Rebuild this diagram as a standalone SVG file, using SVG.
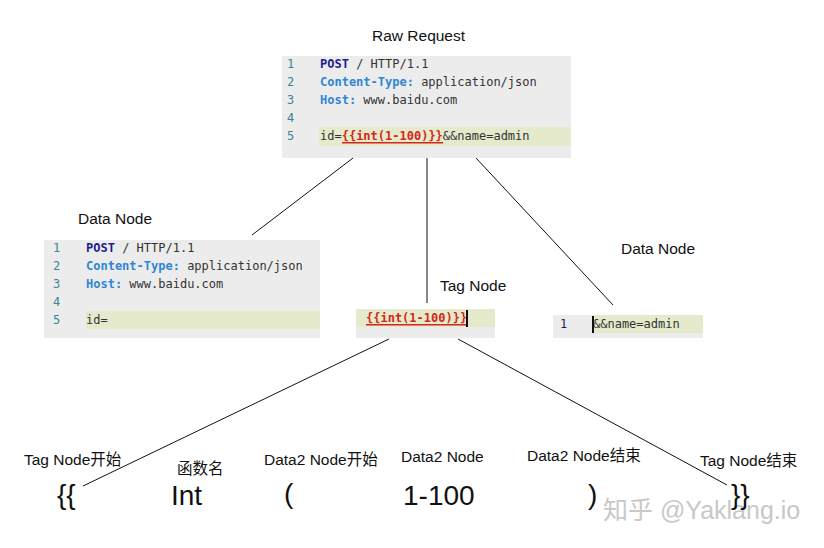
<svg xmlns="http://www.w3.org/2000/svg" width="824" height="548" viewBox="0 0 824 548">
<style>
.lbl{font-family:"Liberation Sans","Noto Sans CJK SC",Arial,sans-serif;font-size:15.5px;fill:#111}
.big{font-family:"Liberation Sans",Arial,sans-serif;font-size:28px;fill:#111}
.code{font-family:"DejaVu Sans Mono","Liberation Mono",monospace;font-size:12px;fill:#333}
.num{fill:#3a8595}
.kw{font-weight:bold;fill:#1c1c8a}
.hd{font-weight:bold;fill:#2f86d6}
.red{font-weight:bold;fill:#d4271b}
.box{fill:#ececec}
.hl{fill:#e6eacc}
.ln{stroke:#111;stroke-width:1;fill:none}
</style>
<rect width="824" height="548" fill="#fff"/>
<g id="raw-request">
<text class="lbl" x="372" y="41">Raw Request</text>
<rect class="box" x="282" y="56" width="289" height="102"/>
<rect class="hl" x="319" y="127" width="252" height="19"/>
<text class="code" x="287" y="68"><tspan class="num">1</tspan></text>
<text class="code" x="287" y="86"><tspan class="num">2</tspan></text>
<text class="code" x="287" y="104"><tspan class="num">3</tspan></text>
<text class="code" x="287" y="122"><tspan class="num">4</tspan></text>
<text class="code" x="287" y="140"><tspan class="num">5</tspan></text>
<text class="code" x="320" y="68"><tspan class="kw">POST</tspan> / HTTP/1.1</text>
<text class="code" x="320" y="86"><tspan class="hd">Content-Type:</tspan> application/json</text>
<text class="code" x="320" y="104"><tspan class="hd">Host:</tspan> www.baidu.com</text>
<text class="code" x="320" y="140">id=<tspan class="red">{{int(1-100)}}</tspan>&amp;&amp;name=admin</text>
<rect x="342" y="142" width="101" height="1.5" fill="#d4271b"/>
</g>
<g id="data-node-left">
<text class="lbl" x="78" y="224">Data Node</text>
<rect class="box" x="44" y="240" width="276" height="98"/>
<rect class="hl" x="86" y="311" width="234" height="18"/>
<text class="code" x="53" y="252"><tspan class="num">1</tspan></text>
<text class="code" x="53" y="270"><tspan class="num">2</tspan></text>
<text class="code" x="53" y="288"><tspan class="num">3</tspan></text>
<text class="code" x="53" y="306"><tspan class="num">4</tspan></text>
<text class="code" x="53" y="324"><tspan class="num">5</tspan></text>
<text class="code" x="86" y="252"><tspan class="kw">POST</tspan> / HTTP/1.1</text>
<text class="code" x="86" y="270"><tspan class="hd">Content-Type:</tspan> application/json</text>
<text class="code" x="86" y="288"><tspan class="hd">Host:</tspan> www.baidu.com</text>
<text class="code" x="86" y="324">id=</text>
</g>
<g id="tag-node">
<text class="lbl" x="440" y="291">Tag Node</text>
<rect class="box" x="356" y="309" width="139" height="29"/>
<rect class="hl" x="356" y="309" width="139" height="18"/>
<text class="code" x="366" y="322"><tspan class="red">{{int(1-100)}}</tspan></text>
<rect x="366" y="324" width="101" height="1.5" fill="#d4271b"/>
<rect x="466" y="310" width="2" height="17" fill="#111"/>
</g>
<g id="data-node-right">
<text class="lbl" x="621" y="254">Data Node</text>
<rect class="box" x="553" y="315" width="150" height="23"/>
<rect class="hl" x="592" y="315" width="111" height="18"/>
<text class="code" x="560" y="328"><tspan fill="#1c1c5a">1</tspan></text>
<text class="code" x="593" y="328">&amp;&amp;name=admin</text>
<rect x="592" y="316" width="2" height="17" fill="#111"/>
</g>
<g id="connectors">
<line class="ln" x1="353" y1="158" x2="252" y2="235"/>
<line class="ln" x1="427" y1="158" x2="427" y2="303"/>
<line class="ln" x1="476" y1="158" x2="613" y2="305"/>
<line class="ln" x1="389" y1="339" x2="83" y2="486"/>
<line class="ln" x1="458" y1="339" x2="727" y2="485"/>
</g>
<text x="603" y="519" font-family="Liberation Sans,'Noto Sans CJK SC',sans-serif" font-size="25" fill="#c8c8c8">知乎 @Yaklang.io</text>
<g id="tokens">
<text class="lbl" x="24" y="465">Tag Node开始</text>
<text class="lbl" x="177" y="474">函数名</text>
<text class="lbl" x="264" y="465">Data2 Node开始</text>
<text class="lbl" x="401" y="462">Data2 Node</text>
<text class="lbl" x="527" y="461">Data2 Node结束</text>
<text class="lbl" x="700" y="466">Tag Node结束</text>
<text class="big" x="57" y="504">{{</text>
<text class="big" x="171" y="505">Int</text>
<text class="big" x="284" y="503">(</text>
<text class="big" x="403" y="505" font-size="29">1-100</text>
<text class="big" x="588" y="504">)</text>
<text class="big" x="731" y="504">}}</text>
</g>
</svg>
